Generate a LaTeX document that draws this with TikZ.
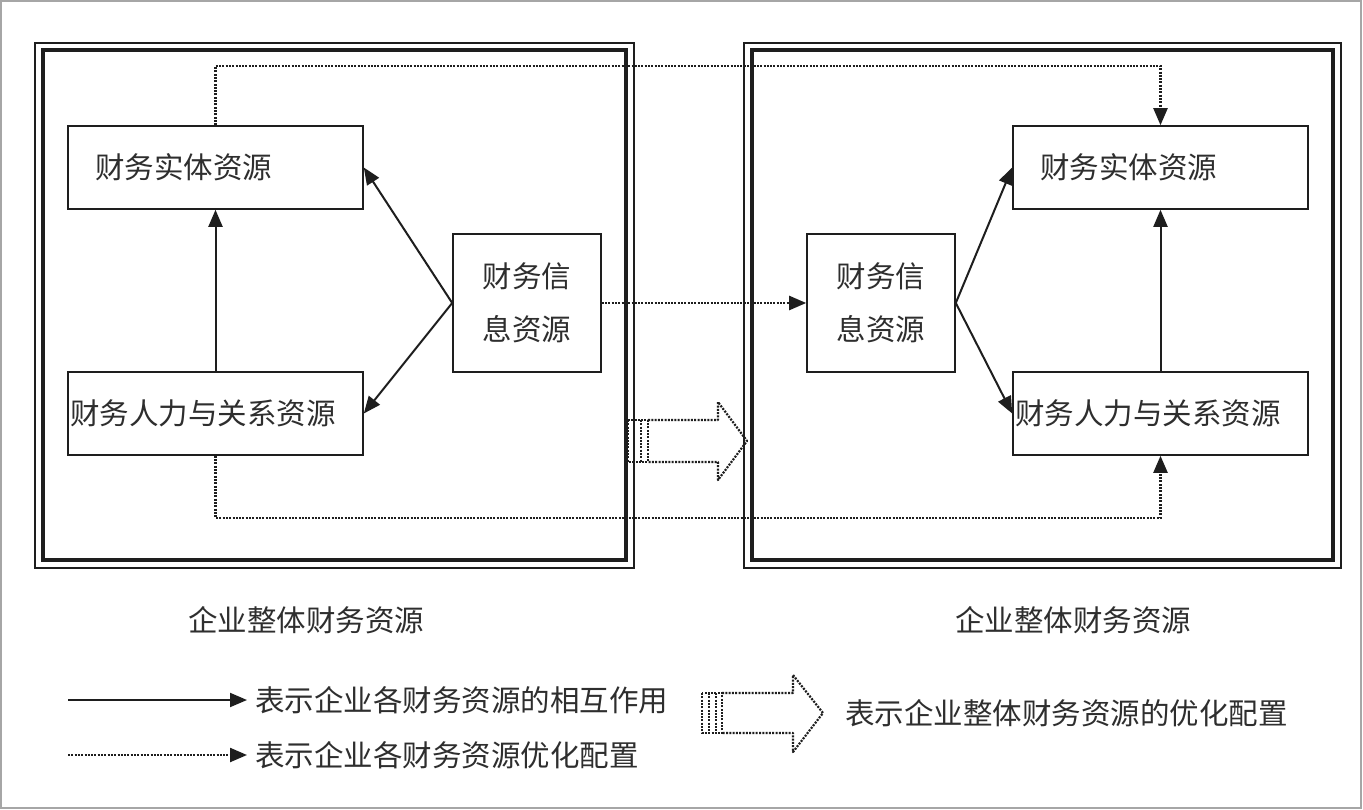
\documentclass[tikz,border=0pt]{standalone}
\usepackage{fontspec}
\newfontfamily\cjk{Noto Sans CJK SC}
\usetikzlibrary{arrows.meta}
\definecolor{ink}{HTML}{1E1E1E}
\definecolor{txt}{HTML}{2E2E2E}
\tikzset{
  box/.style={draw=ink, line width=1.6pt, rectangle, inner ysep=0pt, text=txt,
    font={\cjk\fontsize{29.5}{53}\selectfont}},
  lbl/.style={text=txt, inner sep=0pt, font={\cjk\fontsize{29.5}{36}\selectfont}},
  sol/.style={draw=ink, line width=2pt, -{Triangle[length=17pt,width=14pt]}},
  dotl/.style={draw=ink, line width=2.3pt, dash pattern=on 2pt off 1.3pt, -{Triangle[length=17pt,width=14pt]}},
  dotnone/.style={draw=ink, line width=2.2pt, dash pattern=on 2pt off 1.3pt},
  frameo/.style={draw=ink, line width=2.4pt},
  framei/.style={draw=ink, line width=3.2pt},
}
\begin{document}
\begin{tikzpicture}[x=1pt,y=-1pt]
\useasboundingbox (0,0) rectangle (1363,810);
\fill[white] (0,0) rectangle (1363,810);
\draw[gray!70, line width=1.5pt] (1,1) rectangle (1361,808);

% outer double frames
\draw[frameo] (35,43) rectangle (634,568);
\draw[framei] (43,50) rectangle (626,560);
\draw[frameo] (744,43) rectangle (1341,568);
\draw[framei] (752,50) rectangle (1333,560);

% left group
\node[box, minimum width=295pt, minimum height=83pt, text width=241pt, inner xsep=27pt, align=left] (ent1) at (215.5,167.5) {财务实体资源};
\node[box, minimum width=295pt, minimum height=83pt, text width=291pt, inner xsep=2pt, align=left] (hum1) at (215.5,413.5) {财务人力与关系资源};
\node[box, minimum width=148pt, minimum height=138pt, align=center] (info1) at (527,303) {财务信\\息资源};

% right group
\node[box, minimum width=148pt, minimum height=138pt, align=center] (info2) at (881,303) {财务信\\息资源};
\node[box, minimum width=295pt, minimum height=83pt, text width=241pt, inner xsep=27pt, align=left] (ent2) at (1160.5,167.5) {财务实体资源};
\node[box, minimum width=295pt, minimum height=83pt, text width=291pt, inner xsep=2pt, align=left] (hum2) at (1160.5,413.5) {财务人力与关系资源};

% solid interactions
\draw[sol] (hum1.north) -- (ent1.south);
\draw[sol] (info1.west) -- (ent1.east);
\draw[sol] (info1.west) -- (hum1.east);
\draw[sol] (hum2.north) -- (ent2.south);
\draw[sol] (info2.east) -- (ent2.west);
\draw[sol] (info2.east) -- (hum2.west);

% dotted optimisation links
\coordinate (topy) at (0,66);
\coordinate (boty) at (0,518);
\draw[dotl] (ent1.north) -- (ent1.north |- topy) -| (ent2.north);
\draw[dotl] (hum1.south) -- (hum1.south |- boty) -| (hum2.south);
\draw[dotl] (info1.east) -- (info2.west);

% big hollow arrow
\draw[dotnone, line join=round] (648,420) -- (718,420) -- (718,402) -- (747,441) -- (718,480) -- (718,462) -- (648,462);
\draw[dotnone] (628,420) rectangle (648,462);
\draw[dotnone] (634,420) -- (634,462) (641,420) -- (641,462);

% captions
\node[lbl, anchor=west] (cap1) at (188,620) {企业整体财务资源};
\node[lbl, anchor=west] (cap2) at (955,620) {企业整体财务资源};

% legend
\node[lbl, anchor=west] (lg1) at (255,700) {表示企业各财务资源的相互作用};
\node[lbl, anchor=west] (lg2) at (255,755) {表示企业各财务资源优化配置};
\node[lbl, anchor=west] (lg3) at (845,713) {表示企业整体财务资源的优化配置};
\coordinate (lg1s) at (68,700);
\coordinate (lg2s) at (68,755);
\draw[sol] (lg1s) -- ([xshift=-8pt]lg1.west);
\draw[dotl] (lg2s) -- ([xshift=-8pt]lg2.west);

\draw[dotnone, line join=round] (722,693) -- (793,693) -- (793,675) -- (823,713) -- (793,752) -- (793,733) -- (722,733);
\draw[dotnone] (702,693) rectangle (722,733);
\draw[dotnone] (709,693) -- (709,733) (716,693) -- (716,733);
\end{tikzpicture}
\end{document}
